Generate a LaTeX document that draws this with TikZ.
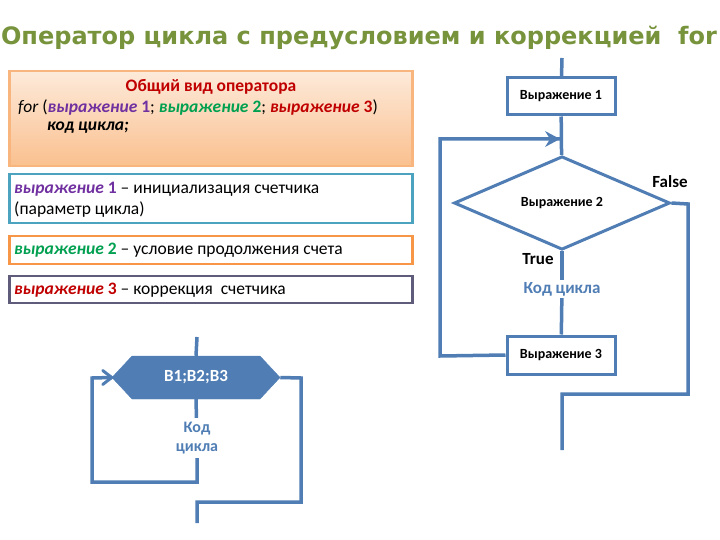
\documentclass[tikz,border=0pt]{standalone}
\usepackage{fontspec}
\setmainfont{Carlito}
\newfontfamily\titlefont{DejaVu Sans}
\usetikzlibrary{arrows.meta,shapes.geometric,shapes.symbols}
\definecolor{ln}{HTML}{4F7DB4}
\definecolor{ttl}{HTML}{77933C}
\definecolor{ex1}{HTML}{7030A0}
\definecolor{ex2}{HTML}{00A050}
\definecolor{ex3}{HTML}{C00000}
\definecolor{bx2}{HTML}{4BA3C0}
\definecolor{bx3}{HTML}{F79646}
\definecolor{bx4}{HTML}{5F5B7B}
\definecolor{orT}{HTML}{FDEADA}
\definecolor{orB}{HTML}{FAC08F}
\newcommand{\eI}{\textbf{\textit{\color{ex1}выражение} \color{ex1}1}}
\newcommand{\eII}{\textbf{\textit{\color{ex2}выражение} \color{ex2}2}}
\newcommand{\eIII}{\textbf{\textit{\color{ex3}выражение} \color{ex3}3}}
\begin{document}
\begin{tikzpicture}[x=1pt,y=1pt,
  flow/.style={color=ln,draw,line width=3.5pt},
  headfill/.style={fill=ln},
  headopen/.style={draw=ln,line width=3pt,line cap=round},
  fbox/.style={draw=ln,line width=3pt,fill=white,minimum width=108pt,minimum height=37pt,inner sep=0pt,font=\fontsize{14}{16}\selectfont\bfseries},
  infobox/.style={line width=2.2pt,minimum width=403pt,inner sep=0pt},
  body/.style={font=\fontsize{17.5}{20}\selectfont,inner sep=0pt},
  lbl/.style={font=\fontsize{17}{20}\selectfont\bfseries},
]
\useasboundingbox (0,0) rectangle (720,-540);
% title
\node[text=ttl,font=\titlefont\bfseries\fontsize{24}{28}\selectfont,inner sep=0pt] (title) at (359,-38) {Оператор цикла с предусловием и коррекцией\ \ for};
% general form box
\node[infobox,draw=bx3!70,top color=orT,bottom color=orB,minimum height=95pt] (gen) at (211,-118.5) {};
\node[text=ex3,font=\fontsize{17.5}{20}\selectfont\bfseries,inner sep=0pt] (genh) at (211,-87) {Общий вид оператора};
\node[anchor=west,body] (genf) at (18,-107) {\textit{for} (\eI; \eII; \eIII)};
\node[anchor=west,body,font=\fontsize{17.5}{20}\selectfont\bfseries\itshape] (genk) at (47,-128) {код цикла;};
% description boxes
\node[infobox,draw=bx2,minimum height=49pt] (d1) at (211,-198.5) {};
\node[anchor=west,body] (d1a) at (14,-189) {\eI{} – инициализация счетчика};
\node[anchor=west,body] (d1b) at (14,-210) {(параметр цикла)};
\node[infobox,draw=bx3,minimum height=28pt] (d2) at (211,-250) {};
\node[anchor=west,body] (d2a) at (14,-250) {\eII{} – условие продолжения счета};
\node[infobox,draw=bx4,minimum height=27pt] (d3) at (211,-289.5) {};
\node[anchor=west,body] (d3a) at (14,-290) {\eIII{} – коррекция\ \ счетчика};
% right flowchart
\coordinate (rtop) at (562,-58);
\node[fbox] (b1) at (561,-96.5) {Выражение 1};
\node[diamond,draw=ln,line width=3pt,fill=white,minimum width=216pt,minimum height=84pt,inner sep=0pt,font=\fontsize{14}{16}\selectfont\bfseries] (cond) at (562,-203) {Выражение 2};
\node[text=ln,font=\fontsize{17}{20}\selectfont\bfseries,inner sep=2pt] (code) at (562,-289) {Код цикла};
\node[fbox,minimum height=38pt] (b3) at (561,-355) {Выражение 3};
\node[lbl,inner sep=0pt] (fl) at (670,-182) {False};
\node[lbl,inner sep=0pt] (tr) at (538,-259) {True};
\coordinate (join) at (560,-139);
\coordinate (lx) at (440,-356);
\coordinate (ly) at (440,-139);
\coordinate (rx) at (688,-204);
\coordinate (ry) at (688,-394);
\coordinate (mx) at (562,-394);
\coordinate (rend) at (562,-450);
\draw[flow] (rtop) -- (b1);
\draw[flow] (b1) -- (cond);
\draw[flow] (b3.west) -- (lx) -- (ly) -- (join);
\fill[headfill] (join) -- ++(-15,8) -- ++(5,-8) -- ++(-5,-8) -- cycle;
\draw[flow] (cond.south) -- (code);
\draw[flow] (code) -- (b3);
\draw[flow] (cond.east) -- (rx) -- (ry) -- (mx) -- (rend);
% left small flowchart
\node[signal,signal to=west and east,signal pointer angle=94,fill=ln,draw=ln,minimum width=168pt,minimum height=43pt,inner sep=0pt,text=white,font=\fontsize{17}{20}\selectfont\bfseries] (hex) at (196,-377.5) {В1;В2;В3};
\node[text=ln,font=\fontsize{16}{19}\selectfont\bfseries,align=center,inner sep=4pt] (code2) at (197,-438) {Код\\цикла};
\coordinate (ltop) at (197,-337);
\coordinate (lb1) at (197,-482);
\coordinate (lb2) at (92,-482);
\coordinate (lb3) at (92,-378);
\coordinate (lr1) at (301,-378);
\coordinate (lr2) at (301,-502);
\coordinate (lr3) at (197,-502);
\coordinate (lend) at (197,-523);
\draw[flow] (ltop) -- (hex.north);
\draw[flow] (hex.south) -- (code2);
\draw[flow] (code2) -- (lb1) -- (lb2) -- (lb3) -- (hex.west);
\draw[headopen] (hex.west) ++(-9,7) -- (hex.west) -- ++(-9,-7);
\draw[flow] (hex.east) -- (lr1) -- (lr2) -- (lr3) -- (lend);
\end{tikzpicture}
\end{document}
